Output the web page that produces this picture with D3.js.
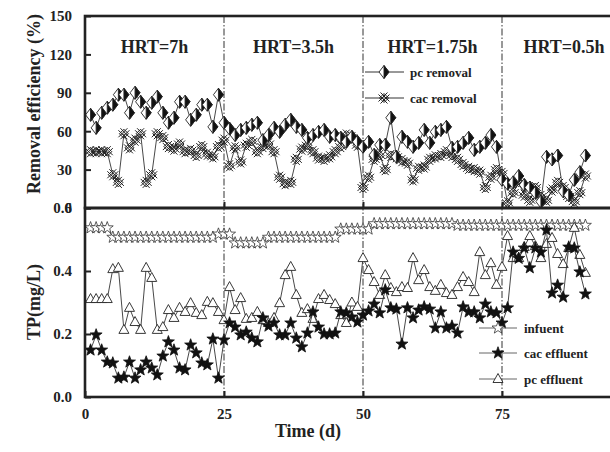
<!DOCTYPE html>
<html>
<head>
<meta charset="utf-8">
<script src="https://cdn.jsdelivr.net/npm/d3@7"></script>
<style>
  body { margin: 0; background: #fff; }
  text { font-family: "Liberation Serif", "Times New Roman", serif; font-weight: bold; fill: #222; }
</style>
</head>
<body>
<script>
// datos (dia de muestreo, un punto por dia)
var days = [1,2,3,4,5,6,7,8,9,10,11,12,13,14,15,16,17,18,19,20,21,22,23,24,25,26,27,28,29,30,
  31,32,33,34,35,36,37,38,39,40,41,42,43,44,45,46,47,48,49,50,51,52,53,54,55,56,57,58,59,60,
  61,62,63,64,65,66,67,68,69,70,71,72,73,74,75,76,77,78,79,80,81,82,83,84,85,86,87,88,89,90];

// panel superior: eficiencia de remocion (%)
var pcRemoval = [72.8,62.6,74.4,78.3,80.7,88.5,88.5,74.4,90,83, 74.4,82.2,87,74.4,66.6,70.5,83,83,68.9,72.8,
  80.7,80.7,63.4,88.5,66.6,62, 57,61,62.6,65,66.6,53,57,62.6,59.5,65, 68.9,63.4,61,54.8,57,59.5,61,55.6,57,54.8,
  51.7, 55.6,51.7,47.8,51.7,41.5,49.3,49.3,70.5,40,55.6, 51.7,47.8,50.9,61,50.9,59.5,61,63.4,47,47.8,
  50.9,54.8,45.4,47.8,50.9,57,47.8, 22,19,20,25,18,16,12,5,40,38,41,13,10,22,28,41];
var cacRemoval = [44,44,44,44,26,20,58,47,53,58, 20,26,58,55,48,46,50,44,45,41, 48,42,40,48,53,33,
  47,36,49,52,44,48,50,44,24,19, 20,38,46,49,44,39,38,40,44,48, 57,55,49,
  16,24,38,41,30,41,40,37,35,22, 31,32,38,40,41,44,41,38,34,31, 30,28,16,24,30,27,
  4,12,20,10,6,16,9,6,14,20, 16,9,5,12,25];

// panel inferior: TP (mg/L)
var influent = [0.537,0.537,0.537,0.537,
  0.507,0.507,0.507,0.507,0.507,0.507,0.507,0.507,0.507,0.507,0.507,0.507,0.507,0.507,0.507,0.507,0.507,0.507,0.507,
  0.517,0.517,0.517, 0.489,0.489,0.489,0.489,0.489,0.489,
  0.507,0.507,0.507,0.507,0.507,0.507,0.507,0.507,0.507,0.507,0.507,0.507,0.507,
  0.533,0.533,0.533,0.533,0.533,0.533,
  0.55,0.55,0.55,0.55,0.55,0.55,0.55,0.55,0.55,0.55,0.55,0.55,0.55,0.55,0.55,
  0.545,0.545,0.545,0.545,0.545,0.545,0.545,0.545,0.545,0.545,0.545,0.545,
  0.545,0.545,0.545,0.545,0.545,0.545,0.545,0.545,0.545,0.545,0.545,0.545];
var cacEffluent = [0.149,0.197,0.149,0.111,0.108,0.06,0.063,0.111,0.06,0.086,
  0.111,0.092,0.07,0.13,0.175,0.149,0.092,0.086,0.165,0.14,
  0.108,0.102,0.184,0.06,0.181,0.235,0.222,0.197,0.206,0.187,
  0.175,0.251,0.225,0.235,0.197,0.197,0.235,0.187,0.159,0.203,
  0.27,0.222,0.2,0.2,0.203,0.27,
  0.267,0.254,0.238,0.26,0.273,0.295,0.267,0.34,0.283,0.279,
  0.168,0.283,0.251,0.276,0.286,0.279,0.219,0.27,0.219,0.225,
  0.203,0.286,0.27,0.27,0.251,0.295,0.27,0.267,0.235,0.283,
  0.46,0.44,0.473,0.41,0.473,0.46,0.53,0.33,0.355,0.317,
  0.476,0.473,0.397,0.327];
var pcEffluent = [0.311,0.311,0.311,0.311,0.406,0.41,0.213,0.283,0.238,0.213,
  0.41,0.378,0.213,0.222,0.276,0.251,0.283,0.27,0.298,0.267,
  0.26,0.302,0.298,0.27,0.244,0.349,0.276,0.314,0.248,0.251,
  0.27,0.244,0.235,0.251,0.298,0.387,0.413,0.324,0.267,0.279,
  0.248,0.311,0.324,0.308,0.295,0.26,0.235, 0.3,
  0.286,0.441,0.403,0.365,0.324,0.387,0.346,0.333,0.349,0.346,
  0.441,0.371,0.403,0.349,0.337,0.356,0.33,0.324,0.349,0.381,
  0.365,0.333,0.46,0.387,0.425,0.356,0.413,0.511,0.441,0.441,
  0.476,0.511,0.479,0.441,0.486,0.505,0.454,0.422,0.473,0.537,
  0.451,0.394];

var xTicks = [0,25,50,75];
var topTicks = [0,30,60,90,120,150];
var botTicks = [0.0,0.2,0.4,0.6];
var hrtLabels = ["HRT=7h","HRT=3.5h","HRT=1.75h","HRT=0.5h"];
var hrtStarts = [0,25,50,75];
var hrtEnds = [25,50,75,95];

function main(){
	var W = 610, H = 452;
	var left = 85;
	var svg = d3.select("body").append("svg").attr("width", W).attr("height", H);

	var x = d3.scaleLinear().domain([0,95]).range([left, left + 139*95/25]);
	var yTop = d3.scaleLinear().domain([0,150]).range([208,16]);
	var yBot = d3.scaleLinear().domain([0,0.6]).range([397,208]);

	// marcadores
	function starPath(R, r){
		var p = "";
		for (var i = 0; i < 10; i++){
			var rad = (i % 2 == 0) ? R : r;
			var a = -Math.PI/2 + i*Math.PI/5;
			p += (i == 0 ? "M" : "L") + (rad*Math.cos(a)).toFixed(2) + "," + (rad*Math.sin(a)).toFixed(2);
		}
		return p + "Z";
	}
	var starD = starPath(6.3, 2.6);
	var triD = "M0,-5.5L5,3.5L-5,3.5Z";
	var diaD = "M0,-6.5L5,0L0,6.5L-5,0Z";
	var diaHalf = "M0,-6.5L5,0L0,6.5Z";
	var crossD = "M-5.5,-3.5L3.5,5.5M-3.5,-5.5L5.5,3.5M-5.5,3.5L3.5,-5.5M-3.5,5.5L5.5,-3.5M-4.5,0L0,-4.5L4.5,0L0,4.5Z";

	function drawMarker(g, type){
		if (type == "diamond"){
			g.append("path").attr("d", diaD).attr("fill", "#fff").attr("stroke", "#222").attr("stroke-width", 0.9);
			g.append("path").attr("d", diaHalf).attr("fill", "#111").attr("stroke", "#222").attr("stroke-width", 0.9);
		} else if (type == "cross"){
			g.append("path").attr("d", crossD).attr("fill", "none").attr("stroke", "#222").attr("stroke-width", 1);
		} else if (type == "openStar"){
			g.append("path").attr("d", starD).attr("fill", "#fff").attr("stroke", "#333").attr("stroke-width", 0.8);
		} else if (type == "star"){
			g.append("path").attr("d", starD).attr("fill", "#111").attr("stroke", "#111").attr("stroke-width", 0.8);
		} else if (type == "triangle"){
			g.append("path").attr("d", triD).attr("fill", "#fff").attr("stroke", "#222").attr("stroke-width", 0.9);
		}
	}

	function drawSeries(values, y, type){
		var pts = values.map(function(v,i){ return [days[i], v]; });
		svg.append("path").datum(pts)
			.attr("fill", "none").attr("stroke", "#333").attr("stroke-width", 0.9)
			.attr("d", d3.line().x(function(d){return x(d[0]);}).y(function(d){return y(d[1]);}));
		svg.selectAll(null).data(pts).enter().append("g")
			.attr("transform", function(d){ return "translate(" + x(d[0]) + "," + y(d[1]) + ")"; })
			.each(function(){ drawMarker(d3.select(this), type); });
	}

	// lineas de division HRT
	svg.selectAll(".hrt").data(hrtStarts.slice(1)).enter().append("line")
		.attr("x1", function(d){return x(d);}).attr("x2", function(d){return x(d);})
		.attr("y1", 16).attr("y2", 397)
		.attr("stroke", "#333").attr("stroke-width", 1)
		.attr("stroke-dasharray", "7,2,1.5,2");

	// series
	drawSeries(cacRemoval, yTop, "cross");
	drawSeries(pcRemoval, yTop, "diamond");
	drawSeries(influent, yBot, "openStar");
	drawSeries(pcEffluent, yBot, "triangle");
	drawSeries(cacEffluent, yBot, "star");

	// ejes
	var gTop = svg.append("g").attr("transform", "translate(" + left + ",0)")
		.call(d3.axisLeft(yTop).tickValues(topTicks).tickSize(-6).tickPadding(13).tickFormat(d3.format("d")));
	var gBot = svg.append("g").attr("transform", "translate(" + left + ",0)")
		.call(d3.axisLeft(yBot).tickValues(botTicks).tickSize(-6).tickPadding(13).tickFormat(d3.format(".1f")));
	var gX = svg.append("g").attr("transform", "translate(0,397)")
		.call(d3.axisBottom(x).tickValues(xTicks).tickSize(-6).tickPadding(11));
	var gXm = svg.append("g").attr("transform", "translate(0,208)")
		.call(d3.axisBottom(x).tickValues(xTicks.slice(1)).tickSize(-6).tickFormat(""));
	[gTop, gBot, gX, gXm].forEach(function(g){
		g.select(".domain").remove();
		g.selectAll(".tick line").attr("stroke", "#222").attr("stroke-width", 2);
		g.selectAll(".tick text").style("font-family", "Liberation Serif").style("font-weight", "bold")
			.style("font-size", "15px").attr("fill", "#222");
	});

	// marcos
	svg.append("rect").attr("x", left).attr("y", 16).attr("width", 640 - left).attr("height", 192)
		.attr("fill", "none").attr("stroke", "#222").attr("stroke-width", 2.6);
	svg.append("rect").attr("x", left).attr("y", 208).attr("width", 640 - left).attr("height", 189)
		.attr("fill", "none").attr("stroke", "#222").attr("stroke-width", 2.6);

	// etiquetas HRT
	svg.selectAll(".hrtl").data(hrtLabels).enter().append("text")
		.attr("x", function(d,i){ return i == 3 ? 564 : (x(hrtStarts[i]) + x(hrtEnds[i]))/2; })
		.attr("y", 53).attr("text-anchor", "middle").style("font-size", "18px")
		.text(function(d){return d;});

	// titulos
	svg.append("text").attr("transform", "translate(40,104) rotate(-90)").attr("text-anchor", "middle")
		.style("font-size", "18px").text("Removal efficiency (%)");
	svg.append("text").attr("transform", "translate(40,302) rotate(-90)").attr("text-anchor", "middle")
		.style("font-size", "18px").text("TP(mg/L)");
	svg.append("text").attr("x", 308).attr("y", 437).attr("text-anchor", "middle")
		.style("font-size", "18px").text("Time (d)");

	// leyendas
	var legTop = [{name:"pc removal", type:"diamond", y:72}, {name:"cac removal", type:"cross", y:98}];
	var legBot = [{name:"infuent", type:"openStar", y:328}, {name:"cac effluent", type:"star", y:353},
		{name:"pc effluent", type:"triangle", y:379}];
	function legend(items, x1, x2, xm, xt, col){
		items.forEach(function(it){
			svg.append("line").attr("x1", x1).attr("x2", x2).attr("y1", it.y).attr("y2", it.y)
				.attr("stroke", col).attr("stroke-width", 1);
			drawMarker(svg.append("g").attr("transform", "translate(" + xm + "," + it.y + ")"), it.type);
			svg.append("text").attr("x", xt).attr("y", it.y + 4.5).style("font-size", "13px").text(it.name);
		});
	}
	legend(legTop, 365, 404, 384, 410, "#333");
	legend(legBot, 479, 517, 498, 524, "#666");
}
main();
</script>
</body>
</html>
